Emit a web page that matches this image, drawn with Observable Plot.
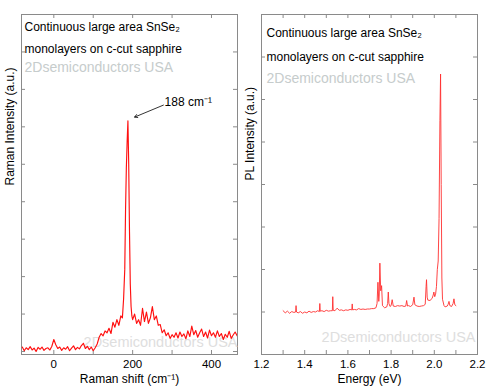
<!DOCTYPE html>
<html>
<head>
<meta charset="utf-8">
<script src="https://cdn.jsdelivr.net/npm/d3@7"></script>
<script src="https://cdn.jsdelivr.net/npm/@observablehq/plot@0.6"></script>
<style>
  html, body { margin: 0; padding: 0; background: #fff; }
  #chart { position: relative; width: 491px; height: 388px; background: #fff; }
  #chart svg { position: absolute; top: 0; }
</style>
</head>
<body>
<div id="chart"></div>
<script>
// ---------- Data ----------
const ramanShift = [-80,-75,-70,-65,-60,-55,-50,-45,-40,-35,-30,-25,-20,-15,-10,-5,0,5,10,15,20,25,30,35,40,45,50,55,60,65,70,75,80,85,90,95,100,105,110,115,120,125,130,135,140,145,150,155,160,165,170,174,177,180,182,184,186,188,190,192,194,196,198,200,205,210,215,220,225,230,235,240,245,250,255,260,265,270,275,280,285,290,295,300,305,310,315,320,325,330,335,340,345,350,355,360,365,370,375,380,385,390,395,400,405,410,415,420,425,430,435,440,445,450,455,460,465];
const ramanIntensity = [0.12,0.02,0.10,0.05,0.13,0.04,0.09,0.00,0.11,0.06,0.12,0.03,0.08,0.10,0.04,0.14,0.32,0.18,0.08,0.12,0.03,0.10,0.06,0.13,0.02,0.09,0.15,0.05,0.11,0.07,0.16,0.22,0.08,0.14,0.05,0.12,0.02,0.10,0.20,0.38,0.48,0.42,0.55,0.50,0.62,0.48,0.78,0.65,0.85,0.70,0.95,0.90,1.4,2.2,3.8,4.9,5.6,6.16,5.0,3.2,1.8,1.2,0.95,0.85,1.0,0.75,0.85,0.70,1.15,0.80,1.05,0.75,0.90,1.20,0.85,0.95,0.70,0.72,0.50,0.58,0.42,0.50,0.35,0.45,0.38,0.50,0.36,0.52,0.40,0.47,0.34,0.55,0.40,0.68,0.45,0.56,0.38,0.50,0.60,0.40,0.52,0.36,0.57,0.42,0.50,0.38,0.55,0.40,0.48,0.32,0.46,0.38,0.54,0.35,0.44,0.52,0.42];

const plEnergy = [1.300,1.31,1.32,1.33,1.34,1.35,1.358,1.36,1.362,1.37,1.38,1.39,1.40,1.41,1.42,1.43,1.44,1.45,1.46,1.468,1.47,1.472,1.48,1.49,1.50,1.51,1.52,1.528,1.53,1.532,1.54,1.55,1.56,1.57,1.58,1.59,1.60,1.61,1.618,1.62,1.622,1.63,1.64,1.65,1.66,1.67,1.68,1.69,1.70,1.71,1.72,1.73,1.735,1.739,1.743,1.745,1.748,1.752,1.756,1.760,1.77,1.78,1.784,1.787,1.790,1.795,1.800,1.805,1.810,1.82,1.83,1.84,1.85,1.86,1.868,1.872,1.876,1.88,1.89,1.90,1.906,1.91,1.92,1.93,1.94,1.95,1.958,1.962,1.964,1.967,1.97,1.98,1.99,1.995,1.998,2.002,2.006,2.010,2.014,2.018,2.022,2.026,2.029,2.032,2.035,2.038,2.045,2.05,2.06,2.064,2.068,2.072,2.08,2.087,2.091,2.095,2.10];
const plIntensity = [1.03,0.98,1.02,0.97,1.01,0.99,1.00,1.15,1.00,0.98,1.01,0.97,1.00,0.98,1.02,0.99,1.01,1.00,1.03,1.01,1.20,1.02,1.03,1.01,1.04,1.02,1.03,1.03,1.36,1.04,1.03,1.09,1.04,1.05,1.03,1.05,1.04,1.06,1.05,1.19,1.05,1.06,1.05,1.08,1.06,1.07,1.06,1.07,1.07,1.08,1.08,1.10,1.20,1.70,1.25,1.40,2.15,1.50,1.62,1.15,1.10,1.12,1.20,1.47,1.20,1.13,1.15,1.29,1.14,1.13,1.15,1.14,1.15,1.13,1.14,1.27,1.14,1.15,1.13,1.17,1.35,1.17,1.14,1.13,1.14,1.15,1.18,1.60,1.76,1.35,1.28,1.27,1.32,1.40,1.47,1.36,1.42,1.60,2.00,2.20,3.20,5.50,6.60,4.00,1.80,1.30,1.15,1.12,1.14,1.18,1.25,1.15,1.13,1.20,1.31,1.17,1.15];

const ramanXTickLabels = [0, 200, 400];
const ramanXTicks = [0, 100, 200, 300, 400];
const ramanYTicks = [0, 1, 2, 3, 4, 5, 6, 7, 8, 9];
const plXTickLabels = [1.2, 1.4, 1.6, 1.8, 2.0, 2.2];
const plXTicks = [1.3, 1.4, 1.5, 1.6, 1.7, 1.8, 1.9, 2.0, 2.1];
const plYTicks = [1, 2, 3, 4, 5, 6, 7];

const noteLines = ["Continuous large area SnSe\u2082", "monolayers on c-cut sapphire"];
const watermark = "2Dsemiconductors USA";
const ramanPeakLabel = [{label: "188 cm\u207B\u00B9", x1: 278, y1: 6.58, x2: 205, y2: 6.26, tx: 281, ty: 6.66}];
const ramanXLabel = "Raman shift (cm\u207B\u00B9)";
const ramanYLabel = "Raman Intensity (a.u.)";
const plXLabel = "Energy (eV)";
const plYLabel = "PL Intensity (a.u.)";

// ---------- Drawing ----------
const FONT = "'Liberation Sans', Arial, Helvetica, sans-serif";
const GRAY = "#8a8a8a";
const H = 388, MT = 14, MB = 34;
const innerH = H - MT - MB;

function notesMarks(lines, dx, dy, step) {
  return lines.map((t, i) => Plot.text([t], {frameAnchor: "top-left", text: d => d, dx, dy: dy + i * step, lineAnchor: "middle", fontSize: 12, fill: "#000"}));
}

function panel({width, ml, mr, xDomain, yDomain, xs, ys, lineColor, lineWidth, xTicks, xTickLabels, yTicks, fmt, notes, xLabel, yLabel, extra, wm}) {
  const innerW = width - ml - mr;
  return Plot.plot({
    width, height: H,
    marginLeft: ml, marginRight: mr, marginTop: MT, marginBottom: MB,
    x: {domain: xDomain},
    y: {domain: yDomain, axis: null},
    style: {fontFamily: FONT, fontSize: "11px", background: "transparent", overflow: "visible", color: "#000"},
    marks: [
      Plot.frame({stroke: GRAY}),
      // inward ticks
      Plot.tickX(xTicks, {x: d => d, insetTop: innerH - 4, stroke: GRAY}),
      Plot.tickX(xTicks, {x: d => d, insetBottom: innerH - 4, stroke: GRAY}),
      Plot.tickY(yTicks, {y: d => d, insetRight: innerW - 4, stroke: GRAY}),
      Plot.tickY(yTicks, {y: d => d, insetLeft: innerW - 4, stroke: GRAY}),
      Plot.axisX({anchor: "bottom", ticks: xTickLabels, tickSize: 0, tickPadding: 5, tickFormat: fmt, label: null, fontSize: 11.5}),
      // watermarks
      Plot.text([wm.text], {frameAnchor: "top-left", text: d => d, dx: wm.tx, dy: wm.ty, lineAnchor: "middle", fontSize: 14, fill: "#c6cccc"}),
      Plot.text([wm.text], {frameAnchor: "bottom-right", text: d => d, dx: wm.bx, dy: wm.by, lineAnchor: "middle", fontSize: 14.5, fill: "#dedede"}),
      // data line
      Plot.line(xs.map((x, i) => i), {x: i => xs[i], y: i => ys[i], stroke: lineColor, strokeWidth: lineWidth, clip: true}),
      // notes
      ...notesMarks(notes.lines, notes.dx, notes.dy, notes.step),
      // axis titles
      Plot.text([xLabel], {frameAnchor: "bottom", text: d => d, dy: 25, lineAnchor: "middle", fontSize: 12}),
      Plot.text([yLabel.text], {frameAnchor: "left", text: d => d, dx: yLabel.dx, dy: yLabel.dy, rotate: -90, lineAnchor: "middle", fontSize: 12}),
      ...extra
    ]
  });
}

const left = panel({
  width: 245, ml: 21, mr: 8,
  xDomain: [-82, 466], yDomain: [-0.08, 9],
  xs: ramanShift, ys: ramanIntensity, lineColor: "#ff1010", lineWidth: 1.15,
  xTicks: ramanXTicks, xTickLabels: ramanXTickLabels, yTicks: ramanYTicks,
  fmt: d => String(d),
  notes: {lines: noteLines, dx: 3, dy: 13, step: 21.5},
  xLabel: ramanXLabel,
  yLabel: {text: ramanYLabel, dx: -11, dy: 1},
  wm: {text: watermark, tx: 3, ty: 53, bx: 0, by: -12},
  extra: [
    Plot.arrow(ramanPeakLabel, {x1: "x1", y1: "y1", x2: "x2", y2: "y2", stroke: "#000", strokeWidth: 0.8, headLength: 6, bend: 0}),
    Plot.text(ramanPeakLabel, {x: "tx", y: "ty", text: "label", textAnchor: "start", lineAnchor: "middle", fontSize: 12, fill: "#000"})
  ]
});

const right = panel({
  width: 246, ml: 16, mr: 14,
  xDomain: [1.2, 2.2], yDomain: [0, 8],
  xs: plEnergy, ys: plIntensity, lineColor: "#ff3030", lineWidth: 0.9,
  xTicks: plXTicks, xTickLabels: plXTickLabels, yTicks: plYTicks,
  fmt: d3.format(".1f"),
  notes: {lines: noteLines, dx: 5, dy: 19, step: 24},
  xLabel: plXLabel,
  yLabel: {text: plYLabel, dx: -11, dy: -4},
  wm: {text: watermark, tx: 5, ty: 64, bx: -2, by: -17},
  extra: []
});

left.style.left = "0px";
right.style.left = "245px";
document.getElementById("chart").append(left, right);
</script>
</body>
</html>
